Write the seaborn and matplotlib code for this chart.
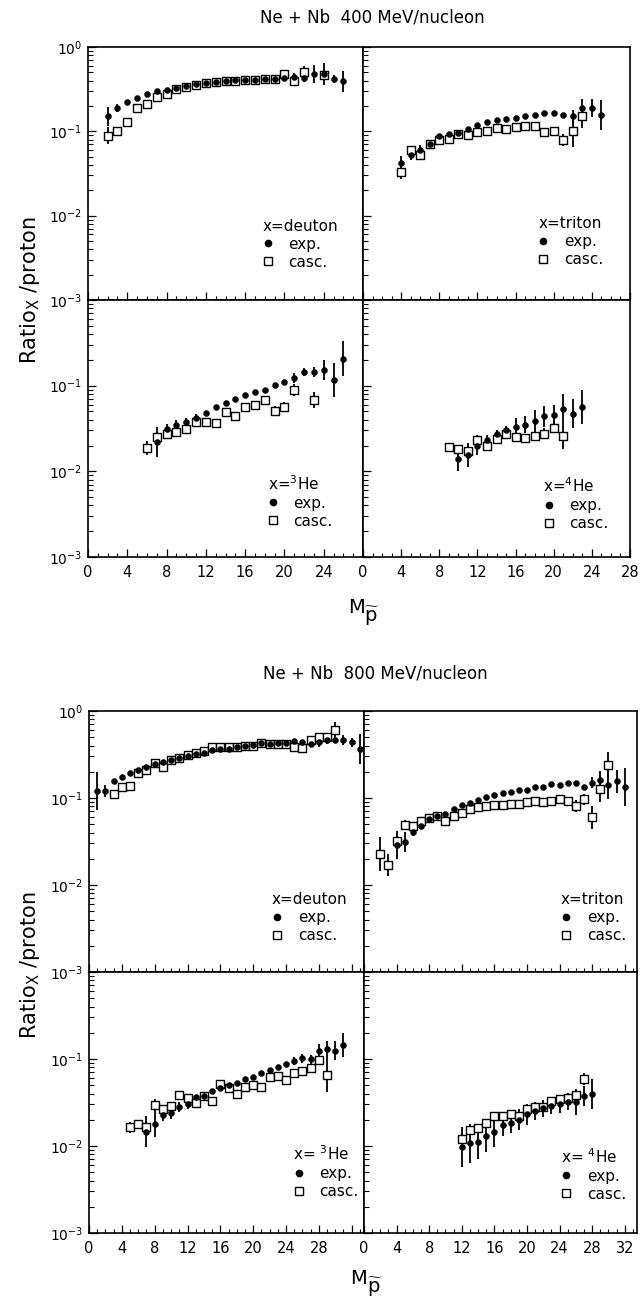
import numpy as np
import matplotlib
matplotlib.use("Agg")
import matplotlib.pyplot as plt
import seaborn as sns
from matplotlib.lines import Line2D
from matplotlib.ticker import FixedLocator, MultipleLocator, LogLocator, NullFormatter

# ---------------- data ----------------
# 400 MeV/nucleon, deuton
d4_m_exp = [2, 3, 4, 5, 6, 7, 8, 9, 10, 11, 12, 13, 14, 15, 16, 17, 18, 19, 20, 21, 22, 23, 24, 25, 26]
d4_exp = [0.15, 0.19, 0.224, 0.25, 0.275, 0.30, 0.31, 0.33, 0.345, 0.36, 0.37, 0.386, 0.40, 0.41, 0.41,
          0.41, 0.42, 0.42, 0.43, 0.44, 0.43, 0.48, 0.48, 0.42, 0.39]
d4_exp_err = [0.11, 0.045, 0, 0, 0, 0, 0, 0, 0, 0, 0, 0, 0, 0, 0, 0, 0, 0, 0.04, 0.05, 0.05, 0.11, 0.13, 0.05, 0.12]
d4_m_casc = [2, 3, 4, 5, 6, 7, 8, 9, 10, 11, 12, 13, 14, 15, 16, 17, 18, 19, 20, 21, 22, 24]
d4_casc = [0.089, 0.10, 0.13, 0.19, 0.21, 0.255, 0.28, 0.32, 0.34, 0.35, 0.37, 0.38, 0.39, 0.40, 0.41,
           0.41, 0.42, 0.42, 0.48, 0.39, 0.50, 0.46]
d4_casc_err = [0.10, 0.04, 0, 0, 0, 0, 0, 0, 0, 0, 0, 0, 0, 0, 0, 0, 0, 0, 0.04, 0.04, 0.07, 0.05]

# 400 MeV/nucleon, triton
t4_m_exp = [4, 5, 6, 7, 8, 9, 10, 11, 12, 13, 14, 15, 16, 17, 18, 19, 20, 21, 22, 23, 24, 25]
t4_exp = [0.042, 0.053, 0.060, 0.071, 0.087, 0.093, 0.095, 0.108, 0.12, 0.13, 0.135, 0.14, 0.145, 0.15,
          0.158, 0.163, 0.165, 0.158, 0.15, 0.19, 0.19, 0.155]
t4_exp_err = [0.09, 0.06, 0.06, 0, 0, 0, 0, 0, 0, 0, 0, 0, 0, 0, 0, 0, 0, 0, 0.08, 0.10, 0.11, 0.18]
t4_m_casc = [4, 5, 6, 7, 8, 9, 10, 11, 12, 13, 14, 15, 16, 17, 18, 19, 20, 21, 22, 23]
t4_casc = [0.033, 0.060, 0.053, 0.071, 0.079, 0.082, 0.093, 0.09, 0.098, 0.102, 0.11, 0.108, 0.113,
           0.117, 0.117, 0.098, 0.10, 0.079, 0.10, 0.15]
t4_casc_err = [0.08, 0.05, 0, 0, 0, 0, 0, 0, 0, 0, 0, 0, 0, 0, 0, 0.04, 0.04, 0.075, 0.19, 0.14]

# 400 MeV/nucleon, 3He
h4_m_exp = [7, 8, 9, 10, 11, 12, 13, 14, 15, 16, 17, 18, 19, 20, 21, 22, 23, 24, 25, 26]
h4_exp = [0.022, 0.0316, 0.035, 0.038, 0.042, 0.048, 0.056, 0.063, 0.070, 0.078, 0.0846, 0.090, 0.102,
          0.111, 0.123, 0.145, 0.145, 0.153, 0.116, 0.207]
h4_exp_err = [0.17, 0.05, 0.05, 0.04, 0.05, 0, 0, 0, 0, 0, 0, 0, 0, 0, 0.06, 0.05, 0.06, 0.12, 0.2, 0.2]
h4_m_casc = [6, 7, 8, 9, 10, 11, 12, 13, 14, 15, 16, 17, 18, 19, 20, 21, 23]
h4_casc = [0.0188, 0.025, 0.027, 0.0284, 0.031, 0.038, 0.038, 0.037, 0.049, 0.044, 0.057, 0.059, 0.068,
           0.051, 0.057, 0.089, 0.068]
h4_casc_err = [0.08, 0.06, 0.05, 0, 0, 0, 0, 0, 0, 0, 0, 0, 0, 0.05, 0.05, 0.07, 0.09]

# 400 MeV/nucleon, 4He
a4_m_exp = [10, 11, 12, 13, 14, 15, 16, 17, 18, 19, 20, 21, 22, 23]
a4_exp = [0.0141, 0.0155, 0.020, 0.023, 0.027, 0.030, 0.033, 0.035, 0.039, 0.044, 0.045, 0.0537, 0.047, 0.056]
a4_exp_err = [0.145, 0.135, 0.105, 0.06, 0.05, 0.05, 0.105, 0.10, 0.125, 0.125, 0.125, 0.17, 0.17, 0.2]
a4_m_casc = [9, 10, 11, 12, 13, 14, 15, 16, 17, 18, 19, 20, 21]
a4_casc = [0.0194, 0.018, 0.0173, 0.023, 0.020, 0.024, 0.027, 0.025, 0.0245, 0.0257, 0.0276, 0.0324, 0.026]
a4_casc_err = [0.04, 0.05, 0.06, 0.06, 0, 0, 0, 0, 0, 0.06, 0.06, 0.06, 0.15]

# 800 MeV/nucleon, deuton
d8_m_exp = list(range(1, 34))
d8_exp = [0.121, 0.121, 0.158, 0.173, 0.195, 0.21, 0.225, 0.246, 0.261, 0.273, 0.286, 0.306, 0.32, 0.327,
          0.356, 0.363, 0.369, 0.383, 0.396, 0.407, 0.425, 0.42, 0.425, 0.425, 0.452, 0.445, 0.42, 0.435,
          0.464, 0.464, 0.464, 0.435, 0.363]
d8_exp_err = [0.22, 0.07, 0, 0, 0, 0, 0, 0, 0, 0, 0, 0, 0, 0, 0, 0, 0, 0, 0, 0, 0, 0, 0, 0, 0, 0, 0,
              0.05, 0.05, 0.04, 0.06, 0.05, 0.17]
d8_m_casc = list(range(3, 31))
d8_casc = [0.111, 0.133, 0.137, 0.192, 0.21, 0.255, 0.229, 0.273, 0.29, 0.31, 0.327, 0.35, 0.382, 0.39,
           0.382, 0.382, 0.396, 0.396, 0.425, 0.42, 0.42, 0.415, 0.382, 0.378, 0.464, 0.507, 0.507, 0.605]
d8_casc_err = [0.05, 0, 0, 0, 0, 0, 0, 0, 0, 0, 0, 0, 0, 0, 0, 0, 0, 0, 0, 0, 0, 0, 0, 0, 0, 0, 0.04, 0.09]

# 800 MeV/nucleon, triton
t8_m_exp = list(range(4, 33))
t8_exp = [0.0288, 0.0315, 0.041, 0.048, 0.058, 0.062, 0.065, 0.0748, 0.083, 0.088, 0.095, 0.104, 0.108,
          0.113, 0.118, 0.122, 0.124, 0.134, 0.134, 0.145, 0.14, 0.15, 0.15, 0.134, 0.15, 0.16, 0.14,
          0.155, 0.134]
t8_exp_err = [0.16, 0.115, 0.05, 0, 0, 0, 0, 0, 0, 0, 0, 0, 0, 0, 0, 0, 0, 0, 0, 0, 0, 0, 0, 0,
              0.06, 0.105, 0.16, 0.13, 0.22]
t8_m_casc = list(range(2, 31))
t8_casc = [0.0227, 0.017, 0.0323, 0.049, 0.0476, 0.0544, 0.059, 0.062, 0.054, 0.062, 0.0667, 0.0748,
           0.078, 0.081, 0.083, 0.083, 0.0846, 0.0846, 0.089, 0.092, 0.089, 0.093, 0.0966, 0.093, 0.081,
           0.0966, 0.06, 0.126, 0.24]
t8_casc_err = [0.19, 0.13, 0.05, 0.06, 0, 0, 0, 0, 0, 0, 0, 0, 0, 0, 0, 0, 0, 0, 0, 0, 0, 0, 0, 0,
               0.07, 0.06, 0.13, 0.15, 0.15]

# 800 MeV/nucleon, 3He
h8_m_exp = list(range(7, 32))
h8_exp = [0.0146, 0.0179, 0.0227, 0.0241, 0.0279, 0.030, 0.0363, 0.0376, 0.0432, 0.047, 0.050, 0.0525,
          0.0584, 0.0616, 0.0684, 0.0748, 0.0803, 0.087, 0.095, 0.102, 0.099, 0.124, 0.129, 0.124, 0.145]
h8_exp_err = [0.18, 0.15, 0.07, 0.07, 0.06, 0.05, 0, 0, 0, 0, 0, 0, 0, 0, 0, 0, 0, 0,
              0.05, 0.05, 0.05, 0.08, 0.10, 0.11, 0.14]
h8_m_casc = list(range(5, 30))
h8_casc = [0.0164, 0.0179, 0.0167, 0.0296, 0.0264, 0.0288, 0.0386, 0.0353, 0.031, 0.038, 0.033, 0.0516,
           0.046, 0.0396, 0.048, 0.050, 0.048, 0.0616, 0.063, 0.0574, 0.0696, 0.072, 0.078, 0.0975, 0.0655]
h8_casc_err = [0.06, 0.05, 0.06, 0.07, 0, 0, 0, 0, 0, 0, 0, 0, 0, 0, 0, 0, 0, 0, 0, 0, 0, 0,
               0.05, 0, 0.2]

# 800 MeV/nucleon, 4He
a8_m_exp = list(range(12, 29))
a8_exp = [0.0098, 0.0107, 0.0112, 0.013, 0.0145, 0.0174, 0.0185, 0.020, 0.0231, 0.0252, 0.0271, 0.0291,
          0.0304, 0.0323, 0.032, 0.0376, 0.0396]
a8_exp_err = [0.23, 0.22, 0.2, 0.18, 0.17, 0.12, 0.12, 0.12, 0.12, 0.1, 0.1, 0.1, 0.1, 0.1, 0.15, 0.12, 0.17]
a8_m_casc = list(range(12, 28))
a8_casc = [0.0119, 0.0153, 0.016, 0.0182, 0.0221, 0.0221, 0.0233, 0.0221, 0.0264, 0.0283, 0.028, 0.0332,
           0.0344, 0.036, 0.0386, 0.0584]
a8_casc_err = [0.07, 0.04, 0.04, 0.04, 0, 0, 0, 0, 0, 0, 0, 0, 0, 0, 0, 0.07]

# tick labels / texts
xt_400_left = ["0", "4", "8", "12", "16", "20", "24", ""]
xt_400_right = ["0", "4", "8", "12", "16", "20", "24", "28"]
xt_800_left = ["0", "4", "8", "12", "16", "20", "24", "28", ""]
xt_800_right = ["0", "4", "8", "12", "16", "20", "24", "28", "32"]
yt_upper = [r"$10^{-3}$", r"$10^{-2}$", r"$10^{-1}$", r"$10^{0}$"]
yt_lower = [r"$10^{-3}$", r"$10^{-2}$", r"$10^{-1}$", ""]
titles = ["Ne + Nb  400 MeV/nucleon", "Ne + Nb  800 MeV/nucleon"]
ylabel_text = r"Ratio$_{X}$ /proton"
xlabel_main = "M"
xlabel_sub = r"$\widetilde{p}$"

# ---------------- style ----------------
sns.set_theme(style="ticks")
plt.rcParams["font.family"] = ["DejaVu Sans"]
plt.rcParams["mathtext.default"] = "regular"
plt.rcParams["axes.edgecolor"] = "black"
plt.rcParams["axes.linewidth"] = 1.2
plt.rcParams["xtick.color"] = "black"
plt.rcParams["ytick.color"] = "black"
plt.rcParams["text.color"] = "black"
plt.rcParams["axes.labelcolor"] = "black"
plt.rcParams["xtick.labelcolor"] = "black"
plt.rcParams["ytick.labelcolor"] = "black"
plt.rcParams["legend.labelcolor"] = "black"

W, H = 641, 1300
fig = plt.figure(figsize=(W / 100, H / 100), dpi=100)
fig.patch.set_facecolor("white")


def rect(x0, y0, x1, y1):
    return [x0 / W, 1 - y1 / H, (x1 - x0) / W, (y1 - y0) / H]


def draw(ax, m_exp, v_exp, e_exp, m_casc, v_casc, e_casc):
    for m, v, e in ((m_casc, v_casc, e_casc), (m_exp, v_exp, e_exp)):
        m = np.asarray(m, float)
        v = np.asarray(v, float)
        e = np.asarray(e, float)
        sel = e > 0
        lo = v[sel] - v[sel] * 10 ** (-e[sel])
        hi = v[sel] * 10 ** (e[sel]) - v[sel]
        ax.errorbar(m[sel], v[sel], yerr=[lo, hi], fmt="none", ecolor="black",
                    elinewidth=1.3, capsize=0, zorder=2)
    sns.scatterplot(x=m_casc, y=v_casc, ax=ax, marker="s", s=30, color="white",
                    edgecolor="black", linewidth=1.0, zorder=3, legend=False)
    sns.scatterplot(x=m_exp, y=v_exp, ax=ax, marker="o", s=19, color="black",
                    edgecolor="black", linewidth=0.3, zorder=4, legend=False)


def setup(ax, xmax, xlabels, ylabels, show_x, show_y):
    ax.set_yscale("log")
    ax.set_ylim(1e-3, 1)
    ax.set_xlim(0, xmax)
    ax.set_xlabel("")
    ax.set_ylabel("")
    ticks = list(range(0, 4 * len(xlabels), 4))
    ax.xaxis.set_major_locator(FixedLocator(ticks))
    ax.xaxis.set_minor_locator(MultipleLocator(1))
    if show_x:
        ax.set_xticklabels(xlabels)
    ax.set_yticks([1e-3, 1e-2, 1e-1, 1])
    ax.yaxis.set_minor_locator(LogLocator(base=10, subs=np.arange(2, 10)))
    ax.yaxis.set_minor_formatter(NullFormatter())
    if show_y:
        ax.set_yticklabels(ylabels)
    ax.tick_params(axis="x", which="both", direction="in", bottom=True, top=False,
                   labelbottom=show_x, labelsize=10.5, pad=6)
    ax.tick_params(axis="x", which="major", length=5.5, width=0.9)
    ax.tick_params(axis="x", which="minor", length=2.8, width=0.8)
    ax.tick_params(axis="y", which="both", direction="in", left=True, right=False,
                   labelleft=show_y, labelsize=10, pad=4)
    ax.tick_params(axis="y", which="major", length=6, width=0.9)
    ax.tick_params(axis="y", which="minor", length=3.5, width=0.8)
    for sp in ax.spines.values():
        sp.set_visible(True)
        sp.set_linewidth(1.2)
        sp.set_color("black")


def add_legend(ax, title, anchor):
    handles = [Line2D([], [], ls="none", marker="o", ms=4.5, mfc="black", mec="black"),
               Line2D([], [], ls="none", marker="s", ms=5.5, mfc="white", mec="black", mew=1.0)]
    ax.legend(handles, ["exp.", "casc."], title=title, loc="lower right", bbox_to_anchor=anchor,
              frameon=False, fontsize=11, title_fontsize=11, handlelength=0.7,
              handletextpad=1.0, labelspacing=0.2, borderpad=0, borderaxespad=0,
              alignment="left", labelcolor="black")


panels = [
    # fig, row, col, exp..., casc..., xmax, xlabels, ylabels, title, anchor
    (0, 0, 0, d4_m_exp, d4_exp, d4_exp_err, d4_m_casc, d4_casc, d4_casc_err, 28, xt_400_left, yt_upper,
     "x=deuton", (0.91, 0.12)),
    (0, 0, 1, t4_m_exp, t4_exp, t4_exp_err, t4_m_casc, t4_casc, t4_casc_err, 28, xt_400_right, yt_upper,
     "x=triton", (0.90, 0.13)),
    (0, 1, 0, h4_m_exp, h4_exp, h4_exp_err, h4_m_casc, h4_casc, h4_casc_err, 28, xt_400_left, yt_lower,
     r"x=$^{3}$He", (0.89, 0.11)),
    (0, 1, 1, a4_m_exp, a4_exp, a4_exp_err, a4_m_casc, a4_casc, a4_casc_err, 28, xt_400_right, yt_lower,
     r"x=$^{4}$He", (0.92, 0.10)),
    (1, 0, 0, d8_m_exp, d8_exp, d8_exp_err, d8_m_casc, d8_casc, d8_casc_err, 33.5, xt_800_left, yt_upper,
     "x=deuton", (0.94, 0.11)),
    (1, 0, 1, t8_m_exp, t8_exp, t8_exp_err, t8_m_casc, t8_casc, t8_casc_err, 33.5, xt_800_right, yt_upper,
     "x=triton", (0.96, 0.11)),
    (1, 1, 0, h8_m_exp, h8_exp, h8_exp_err, h8_m_casc, h8_casc, h8_casc_err, 33.5, xt_800_left, yt_lower,
     r"x= $^{3}$He", (0.98, 0.13)),
    (1, 1, 1, a8_m_exp, a8_exp, a8_exp_err, a8_m_casc, a8_casc, a8_casc_err, 33.5, xt_800_right, yt_lower,
     r"x= $^{4}$He", (0.96, 0.12)),
]

frames = [((88, 363, 630), (47, 300, 557)), ((89, 364, 637), (711, 972, 1233))]

for (fi, r, c, me, ve, ee, mc, vc, ec, xmax, xl, yl, ltitle, anchor) in panels:
    xs, ys = frames[fi]
    ax = fig.add_axes(rect(xs[c], ys[r], xs[c + 1], ys[r + 1]))
    ax.set_facecolor("white")
    draw(ax, me, ve, ee, mc, vc, ec)
    setup(ax, xmax, xl, yl, show_x=(r == 1), show_y=(c == 0))
    add_legend(ax, ltitle, anchor)

# figure texts
fig.text(372 / W, 1 - 18 / H, titles[0], ha="center", va="center", fontsize=12)
fig.text(375 / W, 1 - 673 / H, titles[1], ha="center", va="center", fontsize=12)
for xm, ym in ((356, 607), (359, 1278)):
    fig.text(xm / W, 1 - ym / H, xlabel_main, ha="center", va="center", fontsize=14)
    fig.text((xm + 16) / W, 1 - (ym + 9) / H, xlabel_sub, ha="center", va="center", fontsize=14)
fig.text(30 / W, 1 - 290 / H, ylabel_text, ha="center", va="center", rotation=90, fontsize=15)
fig.text(30 / W, 1 - 965 / H, ylabel_text, ha="center", va="center", rotation=90, fontsize=15)

fig.savefig("out.png", dpi=100, facecolor="white")
